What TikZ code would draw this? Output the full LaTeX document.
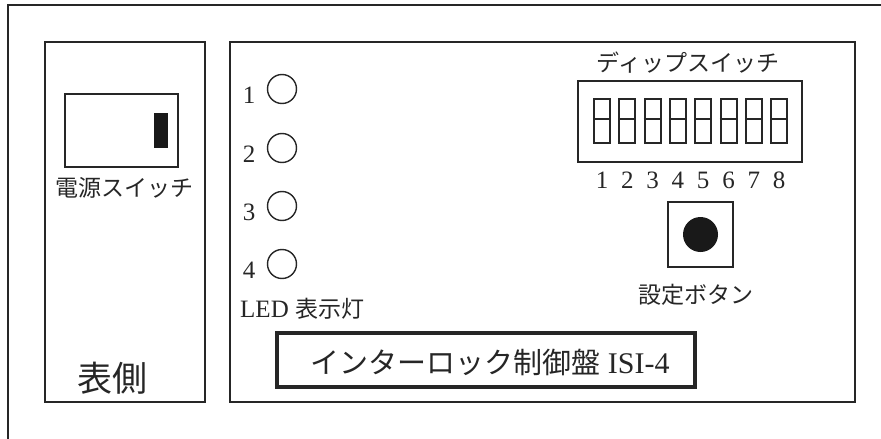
\documentclass[tikz,border=0pt]{standalone}
\usepackage{fontspec}
\setmainfont{Liberation Serif}
\newfontfamily\cjk{Noto Sans CJK JP}
\begin{document}
\begin{tikzpicture}[x=1pt,y=-1pt,
  ln/.style={draw=black!85},
  panel/.style={ln, line width=1.3pt, minimum width=#1, inner sep=0pt},
  jtxt/.style={inner sep=0pt, font=\cjk\fontsize{23}{23}\selectfont, text=black!85},
  ltxt/.style={inner sep=0pt, font=\fontsize{25}{25}\selectfont, text=black!85},
  dipsw/.style={ln, line width=2pt, minimum width=16pt, minimum height=44pt, inner sep=0pt},
  led/.style={ln, circle, line width=1.4pt, minimum size=29pt, inner sep=0pt}]
\useasboundingbox (0,0) rectangle (881,439);
% outer frame (only top and left visible)
\coordinate (fbl) at (8,439);
\coordinate (ftl) at (8,5);
\coordinate (ftr) at (881,5);
\draw[black!85, line width=1.3pt] (fbl) -- (ftl) -- (ftr);
% panels
\node[panel=160pt, minimum height=360pt] (left) at (125,222) {};
\node[panel=625pt, minimum height=360pt] (right) at (542.5,222) {};
% power switch
\node[ln, line width=1.8pt, minimum width=113pt, minimum height=73pt, inner sep=0pt] (psw) at (121.5,130.5) {};
\node[fill=black!90, minimum width=14pt, minimum height=35pt, inner sep=0pt] (pbar) at (161,130.5) {};
\node[jtxt] (pswlab) at (124.5,188) {電源スイッチ};
\node[inner sep=0pt, font=\cjk\fontsize{35}{35}\selectfont, text=black!85] (front) at (112,378) {表側};
% LEDs
\foreach \i/\y in {1/89,2/148,3/206,4/264}{
  \node[led] (led\i) at (282,\y) {};
  \node[ltxt, anchor=base] (ledn\i) at (249,\y+14) {\i};
}
\node[anchor=base west, inner sep=0pt, text=black!85] (ledlab) at (240,317)
  {\fontsize{25}{25}\selectfont LED \cjk\fontsize{23}{23}\selectfont 表示灯};
% DIP switch
\node[jtxt] (diptitle) at (688,63) {ディップスイッチ};
\node[ln, line width=1.8pt, minimum width=224pt, minimum height=81pt, inner sep=0pt] (dip) at (690,121.5) {};
\foreach \i in {1,...,8}{
  \node[dipsw] (sw\i) at ({602+(\i-1)*25.3},121) {};
  \draw[black!85, line width=2pt] ([yshift=2pt]sw\i.west) -- ([yshift=2pt]sw\i.east);
  \node[ltxt, anchor=base] (swn\i) at ({602+(\i-1)*25.3},188) {\i};
}
% set button
\node[ln, line width=1.8pt, minimum size=65pt, inner sep=0pt] (setbox) at (700.5,234.5) {};
\node[circle, fill=black!90, minimum size=35pt, inner sep=0pt] (setbtn) at (setbox.center) {};
\node[jtxt] (setlab) at (696,295) {設定ボタン};
% title plate
\node[ln, line width=4pt, minimum width=418pt, minimum height=54pt, inner sep=0pt] (plate) at (486,360) {};
\node[inner sep=0pt, text=black!85] (platelab) at (490,362)
  {\cjk\fontsize{29}{29}\selectfont インターロック制御盤\fontspec{Liberation Serif}\fontsize{30}{30}\selectfont\ ISI-4};
\end{tikzpicture}
\end{document}
